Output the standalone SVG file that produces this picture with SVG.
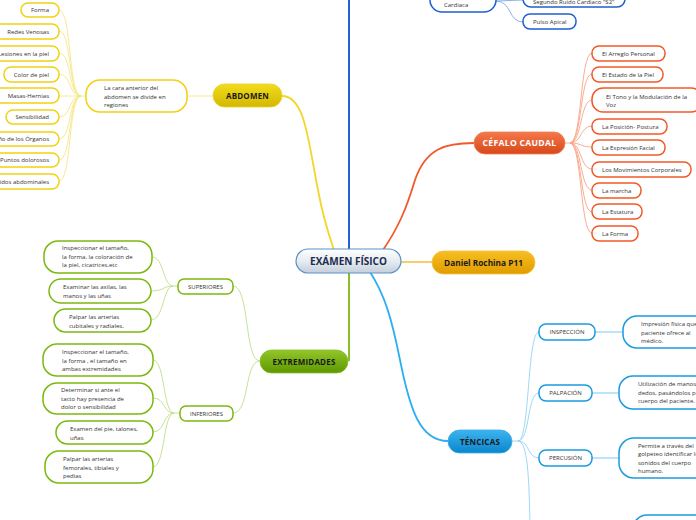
<svg xmlns="http://www.w3.org/2000/svg" width="696" height="520" viewBox="0 0 696 520">
<defs>
<linearGradient id="gC" x1="0" y1="0" x2="0" y2="1"><stop offset="0" stop-color="#ffffff"/><stop offset="0.5" stop-color="#e6ecf2"/><stop offset="1" stop-color="#c3cfdb"/></linearGradient>
<linearGradient id="gY" x1="0" y1="0" x2="0" y2="1"><stop offset="0" stop-color="#f2dc1c"/><stop offset="1" stop-color="#d2b800"/></linearGradient>
<linearGradient id="gG" x1="0" y1="0" x2="0" y2="1"><stop offset="0" stop-color="#93c62a"/><stop offset="1" stop-color="#5e9800"/></linearGradient>
<linearGradient id="gO" x1="0" y1="0" x2="0" y2="1"><stop offset="0" stop-color="#f3784a"/><stop offset="1" stop-color="#d8481a"/></linearGradient>
<linearGradient id="gD" x1="0" y1="0" x2="0" y2="1"><stop offset="0" stop-color="#f7bf22"/><stop offset="1" stop-color="#e09c00"/></linearGradient>
<linearGradient id="gB" x1="0" y1="0" x2="0" y2="1"><stop offset="0" stop-color="#3db4f0"/><stop offset="1" stop-color="#0a86cc"/></linearGradient>
</defs>
<style>
text{font-family:"Open Sans","Noto Sans","DejaVu Sans",sans-serif;}
.t{font-size:6px;fill:#333;}
.m{font-size:8px;font-weight:bold;fill:#1a1a1a;letter-spacing:0.2px;}
.lf{fill:#fff;stroke-width:1.5;}
.y{stroke:#f0d214;}
.g{stroke:#7cb80e;}
.o{stroke:#f05a28;}
.b{stroke:#1a9be0;}
.d{stroke:#1f5fcf;}
.cy{stroke:#f6e37a;stroke-width:0.8;}
.cg{stroke:#bedf8a;stroke-width:0.9;}
.co{stroke:#f8a486;stroke-width:0.9;}
.cb{stroke:#92d2f4;stroke-width:0.9;}
.cd{stroke:#7fa8ea;stroke-width:0.9;}
</style>
<rect width="696" height="520" fill="#ffffff"/>
<g id="connectors" fill="none">
<path d="M349,249 L349,0" stroke="#2063d3" stroke-width="2"/>
<path d="M282,96 C305,96 308,140 318,190 C324,222 330,238 334,250" stroke="#f2d62a" stroke-width="1.8"/>
<path d="M383,250 C398,228 406,210 415,180 C426,148 446,143 474,143" stroke="#f2582a" stroke-width="1.8"/>
<path d="M401,262 L432,262" stroke="#f8cd6a" stroke-width="2"/>
<path d="M349,273 L349,361" stroke="#7cb80e" stroke-width="1.8"/>
<path d="M370,272 C385,295 392,320 400,360 C410,410 420,441 448,441" stroke="#2eaef0" stroke-width="1.8"/>
<path class="cy" d="M213,96 L187,96 M86,96 L81,96"/>
<path class="cy" d="M81,96 C68,96 72,10 59,10 M81,96 C68,96 72,31 59,31 M81,96 C68,96 72,53 59,53 M81,96 C68,96 72,74 59,74 M81,96 L59,96 M81,96 C68,96 72,117 59,117 M81,96 C68,96 72,139 59,139 M81,96 C68,96 72,160 59,160 M81,96 C68,96 72,181 59,181"/>
<path class="cg" d="M260,361 C244,361 250,286 233,286 M260,361 C244,361 250,413 233,413"/>
<path class="cg" d="M178,286 L173,286 C163,286 164,257 152,257 M173,286 C163,286 164,291 151,291 M173,286 C163,286 164,320 151,320"/>
<path class="cg" d="M180,413 L174,413 C163,413 165,360 153,360 M174,413 C163,413 165,398 153,398 M174,413 C163,413 165,432 153,432 M174,413 C163,413 165,467 153,467"/>
<path class="co" d="M565,143 L570,143 C582,143 580,53 592,53 M570,143 C582,143 580,74 592,74 M570,143 C582,143 580,100 592,100 M570,143 C582,143 580,126 592,126 M570,143 C582,143 580,147 592,147 M570,143 C582,143 580,169 592,169 M570,143 C582,143 580,190 592,190 M570,143 C582,143 580,212 592,212 M570,143 C582,143 580,233 592,233"/>
<path class="cb" d="M512,441 L518,441 C530,441 527,332 539,332 M518,441 C530,441 527,393 539,393 M518,441 C530,441 527,458 539,458 M518,441 C528,441 529,480 530,525"/>
<path d="M595,332 L623,332 M592,393 L619,393 M592,458 L619,458" stroke="#a6dbf6" stroke-width="1.4"/>
<path class="cd" d="M496,1 L523,0 M496,1 C512,1 508,22 523,22"/>
</g>
<g id="n-center"><rect x="296" y="249" width="105" height="24" rx="12" fill="url(#gC)" stroke="#5a92c8" stroke-width="1.2"/><text x="348.5" y="265" text-anchor="middle" style="font-size:10px;font-weight:bold;fill:#1c2c4e">EXÁMEN FÍSICO</text></g>
<g id="n-abdomen"><rect x="213" y="84" width="69" height="23" rx="11.5" fill="url(#gY)" stroke="#e8d030" stroke-width="0.8"/><text x="247.5" y="99" text-anchor="middle" class="m">ABDOMEN</text></g>
<g id="n-abd-desc"><rect x="86" y="80" width="101" height="32" rx="14" class="lf y"/><text class="t" x="104" y="90">La cara anterior del</text><text class="t" x="104" y="98.5">abdomen se divide en</text><text class="t" x="104" y="107">regiones</text></g>
<g id="n-a1"><rect x="21" y="3" width="38" height="14" rx="7" class="lf y"/><text class="t" x="49" y="12.2" text-anchor="end">Forma</text></g>
<g id="n-a2"><rect x="-10" y="24" width="69" height="15" rx="7" class="lf y"/><text class="t" x="49" y="33.5" text-anchor="end">Redes Venosas</text></g>
<g id="n-a3"><rect x="-10" y="46" width="69" height="15" rx="7" class="lf y"/><text class="t" x="49" y="55.5" text-anchor="end">Lesiones en la piel</text></g>
<g id="n-a4"><rect x="4" y="67" width="55" height="15" rx="7" class="lf y"/><text class="t" x="49" y="76.5" text-anchor="end">Color de piel</text></g>
<g id="n-a5"><rect x="-10" y="88" width="69" height="15" rx="7" class="lf y"/><text class="t" x="49" y="97.5" text-anchor="end">Masas-Hernias</text></g>
<g id="n-a6"><rect x="6" y="110" width="53" height="14" rx="7" class="lf y"/><text class="t" x="49" y="119.2" text-anchor="end">Sensibilidad</text></g>
<g id="n-a7"><rect x="-10" y="132" width="69" height="14" rx="7" class="lf y"/><text class="t" x="49" y="141.2" text-anchor="end">Tamaño de los Órganos</text></g>
<g id="n-a8"><rect x="-10" y="153" width="69" height="14" rx="7" class="lf y"/><text class="t" x="49" y="162.2" text-anchor="end">Puntos dolorosos</text></g>
<g id="n-a9"><rect x="-10" y="174" width="69" height="15" rx="7" class="lf y"/><text class="t" x="49" y="183.5" text-anchor="end">Ruidos abdominales</text></g>
<g id="n-extremidades"><rect x="260" y="350" width="88" height="23" rx="11.5" fill="url(#gG)" stroke="#8cc030" stroke-width="0.8"/><text x="304" y="364.5" text-anchor="middle" class="m">EXTREMIDADES</text></g>
<g id="n-superiores"><rect x="178" y="279" width="55" height="15" rx="6" class="lf g"/><text class="t" x="205.5" y="288.6" text-anchor="middle">SUPERIORES</text></g>
<g id="n-inferiores"><rect x="180" y="406" width="53" height="15" rx="6" class="lf g"/><text class="t" x="206.5" y="415.6" text-anchor="middle">INFERIORES</text></g>
<g id="n-s1"><rect x="44" y="241" width="108" height="32" rx="14" class="lf g"/><text class="t" x="62" y="250">Inspeccionar el tamaño,</text><text class="t" x="62" y="258.5">la forma, la coloración de</text><text class="t" x="62" y="267">la piel, cicatrices,etc</text></g>
<g id="n-s2"><rect x="49" y="279" width="102" height="24" rx="12" class="lf g"/><text class="t" x="63" y="289">Examinar las axilas, las</text><text class="t" x="63" y="297.5">manos y las uñas</text></g>
<g id="n-s3"><rect x="54" y="309" width="97" height="23" rx="11.5" class="lf g"/><text class="t" x="69" y="319">Palpar las arterias</text><text class="t" x="69" y="327.5">cubitales y radiales,</text></g>
<g id="n-i1"><rect x="43" y="344" width="110" height="32" rx="14" class="lf g"/><text class="t" x="62" y="354">Inspeccionar el tamaño,</text><text class="t" x="62" y="362.5">la forma , el tamaño en</text><text class="t" x="62" y="371">ambas extremidades</text></g>
<g id="n-i2"><rect x="43" y="383" width="110" height="31" rx="14" class="lf g"/><text class="t" x="61" y="392">Determinar si ante el</text><text class="t" x="61" y="400.5">tacto hay presencia de</text><text class="t" x="61" y="409">dolor o sensibilidad</text></g>
<g id="n-i3"><rect x="56" y="421" width="97" height="23" rx="11.5" class="lf g"/><text class="t" x="70" y="431">Examen del pie, talones,</text><text class="t" x="70" y="439.5">uñas</text></g>
<g id="n-i4"><rect x="45" y="451" width="108" height="32" rx="14" class="lf g"/><text class="t" x="63" y="461">Palpar las arterias</text><text class="t" x="63" y="469.5">femorales, tibiales  y</text><text class="t" x="63" y="478">pedias</text></g>
<g id="n-cefalo"><rect x="474" y="132" width="91" height="22" rx="11" fill="url(#gO)" stroke="#f08050" stroke-width="0.8"/><text x="519.5" y="146.3" text-anchor="middle" style="font-size:8.6px;font-weight:bold;fill:#ffffff;letter-spacing:0.3px">CÉFALO CAUDAL</text></g>
<g id="n-c1"><rect x="592" y="46" width="73" height="15" rx="7" class="lf o"/><text class="t" x="602" y="55.5">El Arreglo Personal</text></g>
<g id="n-c2"><rect x="592" y="67" width="71" height="15" rx="7" class="lf o"/><text class="t" x="602" y="76.5">El Estado de la Piel</text></g>
<g id="n-c3"><rect x="592" y="88" width="110" height="24" rx="11" class="lf o"/><text class="t" x="606" y="98.5">El Tono y la Modulación de la</text><text class="t" x="606" y="107">Voz</text></g>
<g id="n-c4"><rect x="592" y="119" width="75" height="15" rx="7" class="lf o"/><text class="t" x="602" y="128.5">La Posición- Postura</text></g>
<g id="n-c5"><rect x="592" y="140" width="73" height="15" rx="7" class="lf o"/><text class="t" x="602" y="149.5">La Expresión Facial</text></g>
<g id="n-c6"><rect x="592" y="162" width="99" height="15" rx="7" class="lf o"/><text class="t" x="602" y="171.5">Los Movimientos Corporales</text></g>
<g id="n-c7"><rect x="592" y="183" width="49" height="15" rx="7" class="lf o"/><text class="t" x="602" y="192.5">La marcha</text></g>
<g id="n-c8"><rect x="592" y="204" width="50" height="15" rx="7" class="lf o"/><text class="t" x="602" y="213.5">La Estatura</text></g>
<g id="n-c9"><rect x="592" y="226" width="46" height="15" rx="7" class="lf o"/><text class="t" x="602" y="235.5">La Forma</text></g>
<g id="n-daniel"><rect x="432" y="251" width="103" height="23" rx="11.5" fill="url(#gD)" stroke="#f3c440" stroke-width="0.8"/><text x="483.5" y="265.5" text-anchor="middle" style="font-size:8.3px;font-weight:bold;fill:#1a1a1a">Daniel Rochina P11</text></g>
<g id="n-tecnicas"><rect x="448" y="430" width="64" height="23" rx="11.5" fill="url(#gB)" stroke="#3aaee8" stroke-width="0.8"/><text x="480" y="444.5" text-anchor="middle" class="m">TÉNCICAS</text></g>
<g id="n-t1"><rect x="539" y="324" width="56" height="16" rx="7" class="lf b"/><text class="t" x="567" y="334.2" text-anchor="middle">INSPECCIÓN</text></g>
<g id="n-t2"><rect x="539" y="385" width="53" height="16" rx="7" class="lf b"/><text class="t" x="565.5" y="395.2" text-anchor="middle">PALPACIÓN</text></g>
<g id="n-t3"><rect x="539" y="450" width="53" height="16" rx="7" class="lf b"/><text class="t" x="565.5" y="460.2" text-anchor="middle">PERCUSIÓN</text></g>
<g id="n-d1"><rect x="623" y="316" width="100" height="32" rx="14" class="lf b"/><text class="t" x="641" y="326">Impresión física que el</text><text class="t" x="641" y="334.5">paciente ofrece al</text><text class="t" x="641" y="343">médico.</text></g>
<g id="n-d2"><rect x="619" y="376" width="100" height="33" rx="14" class="lf b"/><text class="t" x="638" y="386">Utilización de manos y</text><text class="t" x="638" y="394.5">dedos, pasándolos por</text><text class="t" x="638" y="403">cuerpo del paciente.</text></g>
<g id="n-d3"><rect x="619" y="438" width="100" height="40" rx="15" class="lf b"/><text class="t" x="638" y="447.5">Permite a través del</text><text class="t" x="638" y="456">golpeteo identificar los</text><text class="t" x="638" y="464.5">sonidos del cuerpo</text><text class="t" x="638" y="473">humano.</text></g>
<g id="n-d4"><rect x="633" y="515" width="100" height="30" rx="14" class="lf b"/></g>
<g id="n-cardiaca"><rect x="430" y="-20" width="66" height="32" rx="12" class="lf d"/><text class="t" x="444" y="7">Cardiaca</text></g>
<g id="n-s2r"><rect x="523" y="-14" width="102" height="21" rx="8" class="lf d"/><text class="t" x="533" y="3.5">Segundo Ruido Cardiaco "S2"</text></g>
<g id="n-pulso"><rect x="523" y="14" width="53" height="15" rx="7" class="lf d"/><text class="t" x="533" y="23.5">Pulso Apical</text></g>
</svg>
